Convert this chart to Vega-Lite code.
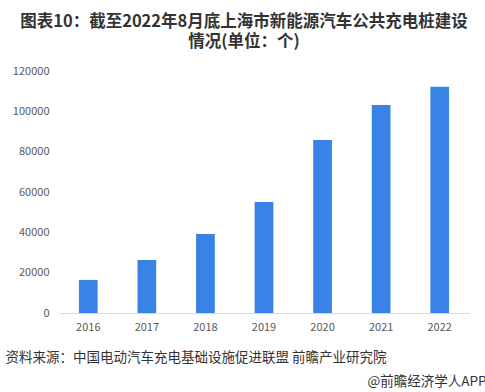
{
  "$schema": "https://vega.github.io/schema/vega-lite/v6.json",
  "autosize": {"type": "none"},
  "width": 410,
  "height": 242,
  "padding": {"left": 59, "top": 71, "right": 16, "bottom": 79},
  "background": "white",
  "config": {
    "view": {"stroke": null},
    "font": "Noto Sans CJK SC"
  },
  "title": {
    "text": ["图表10：截至2022年8月底上海市新能源汽车公共充电桩建设", "情况(单位：个)"],
    "anchor": "middle",
    "dx": -20,
    "fontSize": 16.5,
    "fontWeight": "bold",
    "color": "#333333",
    "lineHeight": 20,
    "offset": 15,
    "font": "Noto Sans CJK SC"
  },
  "data": {
    "values": [
      {"year": "2016", "count": 16400},
      {"year": "2017", "count": 26300},
      {"year": "2018", "count": 39200},
      {"year": "2019", "count": 55100},
      {"year": "2020", "count": 85800},
      {"year": "2021", "count": 103100},
      {"year": "2022", "count": 112200}
    ]
  },
  "resolve": {"axis": {"x": "independent"}},
  "layer": [
    {
      "mark": {"type": "bar", "color": "#3A83E6"},
      "encoding": {
        "x": {
          "field": "year",
          "type": "ordinal",
          "scale": {"paddingInner": 0.68, "paddingOuter": 0.34},
          "axis": {
            "orient": "bottom",
            "title": "资料来源：中国电动汽车充电基础设施促进联盟 前瞻产业研究院",
            "titleAnchor": "start",
            "titleX": -54,
            "titleY": 37,
            "titleFontSize": 13.5,
            "titleFontWeight": "normal",
            "titleColor": "#333333",
            "labelAngle": 0,
            "labelFontSize": 11,
            "labelColor": "#595959",
            "labelPadding": 8,
            "labelFont": "Noto Sans CJK SC",
            "ticks": false,
            "domainColor": "#d9d9d9"
          }
        },
        "y": {
          "field": "count",
          "type": "quantitative",
          "scale": {"domain": [0, 120000]},
          "axis": {
            "title": null,
            "values": [0, 20000, 40000, 60000, 80000, 100000, 120000],
            "format": "d",
            "grid": false,
            "domain": false,
            "ticks": false,
            "labelFontSize": 11,
            "labelColor": "#595959",
            "labelPadding": 10
          }
        }
      }
    },
    {
      "mark": {"type": "bar", "opacity": 0},
      "encoding": {
        "x": {
          "field": "year",
          "type": "ordinal",
          "axis": {
            "orient": "bottom",
            "title": "@前瞻经济学人APP",
            "titleAnchor": "end",
            "titleX": 427,
            "titleY": 61,
            "titleFontSize": 13.5,
            "titleFontWeight": "normal",
            "titleColor": "#333333",
            "labels": false,
            "ticks": false,
            "domain": false
          }
        },
        "y": {"field": "count", "type": "quantitative"}
      }
    }
  ]
}
